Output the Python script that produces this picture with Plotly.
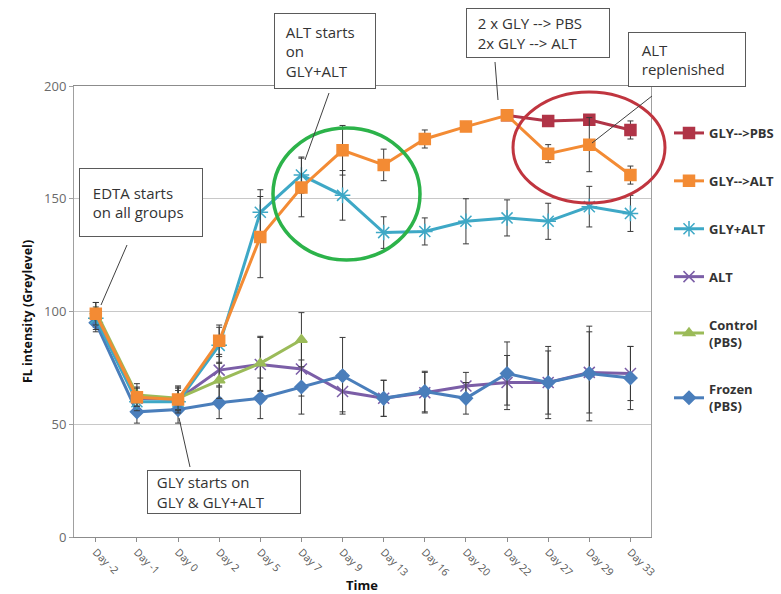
import plotly.graph_objects as go

# ---------------- data ----------------
days = ["Day -2", "Day -1", "Day 0", "Day 2", "Day 5", "Day 7", "Day 9", "Day 13",
        "Day 16", "Day 20", "Day 22", "Day 27", "Day 29", "Day 33"]

gly_pbs = [None, None, None, None, None, None, None, None, None, None, 187, 184.5, 185, 180.5]
gly_pbs_err = [0, 0, 0, 0, 0, 0, 0, 0, 0, 0, 2, 2, 2, 4]

gly_alt = [99, 62, 61, 87, 133, 155, 171.5, 165, 176.5, 182, 187, 170, 174, 160.5]
gly_alt_err = [5, 4, 5, 7, 18, 13, 11, 7, 4, 2, 2, 4, 12, 4]

glyplus_alt = [97, 60, 60, 85, 144, 160.5, 151.5, 135, 135.5, 140, 141.5, 140, 146.5, 143.5]
glyplus_alt_err = [5, 4, 5, 8, 10, 8, 11, 7, 6, 10, 8, 8, 9, 8]

alt = [97, 61.5, 61, 74, 76.5, 74.5, 64.5, 61.5, 64, 67, 68.5, 68.5, 73, 72.5]
alt_err = [4, 5, 6, 7, 12, 12, 9, 8, 9, 6, 12, 14, 18, 12]

control = [100, 63, 61.5, 69.5, 77, 87.5, None, None, None, None, None, None, None, None]
control_err = [4, 5, 5, 8, 12, 12, 0, 0, 0, 0, 0, 0, 0, 0]

frozen = [95, 55.5, 56.5, 59.5, 61.5, 66.5, 71.5, 61.5, 64.5, 61.5, 72.5, 68.5, 72.5, 70.5]
frozen_err = [4, 5, 6, 7, 9, 12, 17, 8, 9, 7, 14, 16, 21, 14]

# ---------------- layout geometry ----------------
W, H = 781, 594
L, R, T, B = 74, 651, 86, 537


def px(x):
    return (x - L) / (R - L)


def py(y):
    return (B - y) / (B - T)


FONT = "Open Sans"
fig = go.Figure()


def add(name, y, err, color, symbol, msize, rank, mline=None, mcolor=None):
    fig.add_trace(go.Scatter(
        x=days, y=y, name=name, mode="lines+markers",
        line=dict(color=color, width=3),
        marker=dict(symbol=symbol, size=msize, color=mcolor or color,
                    line=dict(color=mline or color, width=1.5)),
        error_y=dict(type="data", array=err, visible=True, color="#3a3a3a",
                     thickness=1, width=3),
        legendgroup=name, legendrank=rank, connectgaps=False,
    ))


add("ALT", alt, alt_err, "#7b5ea7", "x-thin-open", 11, 4)
add("Frozen<br>(PBS)", frozen, frozen_err, "#4a7ebb", "diamond", 10, 6)
add("Control<br>(PBS)", control, control_err, "#9bbb59", "triangle-up", 10, 5)
add("GLY+ALT", glyplus_alt, glyplus_alt_err, "#3ea8c6", "asterisk-open", 13, 3)
add("GLY-->PBS", gly_pbs, gly_pbs_err, "#b03447", "square", 11, 1)
add("GLY-->ALT", gly_alt, gly_alt_err, "#f38b34", "square", 11, 2)

shapes = []
# highlight ellipses
shapes.append(dict(type="circle", xref="paper", yref="paper",
                   x0=px(273), x1=px(420), y0=py(260), y1=py(128),
                   line=dict(color="#2cb34a", width=3.5)))
shapes.append(dict(type="circle", xref="paper", yref="paper",
                   x0=px(513), x1=px(665), y0=py(203), y1=py(92),
                   line=dict(color="#c0353f", width=3)))
# callout leader lines
for (x0, y0, x1, y1) in [(127, 245, 101, 305), (329, 93, 305, 160),
                         (495, 62, 498, 100), (652, 96, 592, 143),
                         (190, 467, 179, 418)]:
    shapes.append(dict(type="line", xref="paper", yref="paper",
                       x0=px(x0), y0=py(y0), x1=px(x1), y1=py(y1),
                       line=dict(color="#404040", width=1)))

annotations = []


def box(text, x0, y0, x1, y1, pad=5, fixh=True):
    a = dict(
        text=text, xref="paper", yref="paper",
        x=px(x0), y=py((y0 + y1) / 2), xanchor="left", yanchor="middle",
        showarrow=False, align="left", valign="middle",
        width=x1 - x0 - 2 * pad - 2,
        borderpad=pad, bordercolor="#5a5a5a", borderwidth=1, bgcolor="white",
        font=dict(family=FONT, size=15, color="#333333"),
    )
    if fixh:
        a["height"] = y1 - y0 - 2 * pad - 2
    annotations.append(a)


box("  EDTA starts<br>  on all groups", 79, 168, 203, 237)
box("  ALT starts<br>  on<br>  GLY+ALT", 274, 13, 376, 89, pad=3)
box("  2 x GLY --> PBS<br>  2x GLY --> ALT", 466, 8, 610, 58, pad=3)
box("  ALT<br>  replenished", 628, 32, 746, 87)
box("  GLY starts on<br>  GLY & GLY+ALT", 147, 472, 301, 512, pad=1, fixh=False)

annotations.append(dict(text="<b>Time</b>", xref="paper", yref="paper",
                        x=px(362), y=py(585), xanchor="center", yanchor="middle",
                        showarrow=False, font=dict(family=FONT, size=13, color="#111")))

fig.update_layout(
    width=W, height=H,
    margin=dict(l=L, r=W - R, t=T, b=H - B, autoexpand=False),
    paper_bgcolor="white", plot_bgcolor="white",
    font=dict(family=FONT, color="#595959"),
    showlegend=True,
    legend=dict(x=px(669), y=py(118), xanchor="left", yanchor="top",
                font=dict(family=FONT, size=13, color="#333333", weight="bold"),
                tracegroupgap=28, bgcolor="rgba(0,0,0,0)", itemwidth=30),
    shapes=shapes, annotations=annotations,
    xaxis=dict(type="category", range=[-0.53, 13.5], tickangle=45,
               tickfont=dict(family=FONT, size=10.5, color="#595959"),
               showgrid=False, showline=True, linecolor="#8c8c8c", linewidth=1,
               mirror=True, ticks="outside", ticklen=4, tickcolor="#8c8c8c"),
    yaxis=dict(range=[0, 200], tickvals=[0, 50, 100, 150, 200],
               tickfont=dict(family=FONT, size=13, color="#6a6a6a"),
               showgrid=True, gridcolor="#c8c8c8", gridwidth=1,
               showline=True, linecolor="#a0a0a0", mirror=True,
               ticks="outside", ticklen=4, tickcolor="#a0a0a0",
               zeroline=False,
               title=dict(text="<b>FL intensity (Greylevel)</b>",
                          font=dict(family=FONT, size=12.5, color="#111"), standoff=8)),
)

fig.write_html("out.html")
